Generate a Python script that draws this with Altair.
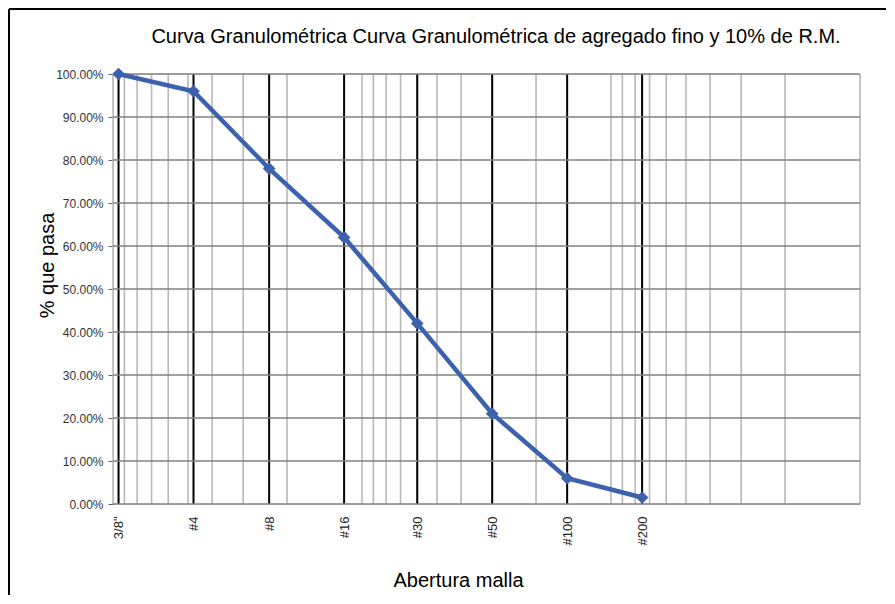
import altair as alt
import pandas as pd

# ---- data ----
sieves = ['3/8"', '#4', '#8', '#16', '#30', '#50', '#100', '#200']
openings = [9.5, 4.75, 2.36, 1.18, 0.6, 0.3, 0.15, 0.075]
passing = [100.0, 96.0, 78.0, 62.0, 42.0, 21.0, 6.0, 1.5]

minor_grid = [m * 10.0 ** e for e in (-2, -1, 0) for m in range(1, 10)] + [10.0]
y_ticks = [i / 10 for i in range(0, 11)]

title_text = "Curva Granulométrica Curva Granulométrica de agregado fino y 10% de R.M."

curve = pd.DataFrame({"sieve": sieves, "opening": openings, "frac": [p / 100 for p in passing]})
sieve_df = pd.DataFrame({"opening": openings})
minor_df = pd.DataFrame({"opening": minor_grid})
ytick_df = pd.DataFrame({"frac": y_ticks})

FONT = "Liberation Sans"
BLUE = "#3C62AE"

xscale = alt.Scale(type="log", domain=[0.01, 10], reverse=True, nice=False)
yscale = alt.Scale(domain=[0, 1], nice=False)

label_expr = " : ".join(
    f"datum.value == {o} ? '{s}'" for o, s in zip(openings, [s.replace('"', '\\"') for s in sieves])
) + " : ''"

x_axis = alt.Axis(
    values=openings,
    labelExpr=label_expr,
    labelAngle=270,
    labelFontSize=13,
    labelFont=FONT,
    labelColor="#222222",
    labelPadding=12,
    ticks=False,
    domain=False,
    grid=False,
    title="Abertura malla",
    titleFont=FONT,
    titleFontSize=20,
    titleFontWeight="normal",
    titleColor="#000000",
    titleX=345,
    titleY=76,
    titleBaseline="middle",
    titleAlign="center",
)

y_axis = alt.Axis(
    values=y_ticks,
    format=".2%",
    labelFontSize=12,
    labelFont=FONT,
    labelColor="#333333",
    labelPadding=5,
    tickSize=5,
    tickColor="#606060",
    domain=False,
    grid=False,
    title="% que pasa",
    titleFont=FONT,
    titleFontSize=20,
    titleFontWeight="normal",
    titleColor="#000000",
    titleAngle=270,
    titleX=-66,
    titleY=191,
    titleAlign="center",
    titleBaseline="middle",
)

minor = alt.Chart(minor_df).mark_rule(color="#b8b8b8", strokeWidth=1.6).encode(
    x=alt.X("opening:Q", scale=xscale, axis=x_axis)
)

major = alt.Chart(sieve_df).mark_rule(color="#000000", strokeWidth=2).encode(
    x=alt.X("opening:Q", scale=xscale)
)

hgrid = alt.Chart(ytick_df).mark_rule(color="#808080", strokeWidth=1.5).encode(
    y=alt.Y("frac:Q", scale=yscale, axis=y_axis)
)

line = alt.Chart(curve).mark_line(color=BLUE, strokeWidth=4.5).encode(
    x=alt.X("opening:Q", scale=xscale),
    y=alt.Y("frac:Q", scale=yscale),
)

points = alt.Chart(curve).mark_point(
    shape="diamond", filled=True, size=160, color=BLUE, opacity=1
).encode(
    x=alt.X("opening:Q", scale=xscale),
    y=alt.Y("frac:Q", scale=yscale),
)

one = pd.DataFrame({"a": [0]})
top_border = alt.Chart(one).mark_rule(color="#000000", strokeWidth=2).encode(
    x=alt.value(-104), x2=alt.value(773), y=alt.value(-65)
)
left_border = alt.Chart(one).mark_rule(color="#000000", strokeWidth=2).encode(
    x=alt.value(-104), y=alt.value(-65), y2=alt.value(521)
)
title = alt.Chart(one).mark_text(
    font=FONT, fontSize=20, color="#000000", align="center", baseline="middle"
).encode(
    x=alt.value(383), y=alt.value(-37), text=alt.value(title_text)
)

chart = (
    alt.layer(minor, major, hgrid, line, points, top_border, left_border, title)
    .properties(
        width=747,
        height=430,
        autosize=alt.AutoSizeParams(type="none"),
        padding={"left": 105, "top": 66, "right": 27, "bottom": 92},
    )
    .configure_view(stroke="#808080", strokeWidth=1.5)
    .configure(background="white")
)

chart.save("out.html", embed_options={"renderer": "svg", "actions": False})
